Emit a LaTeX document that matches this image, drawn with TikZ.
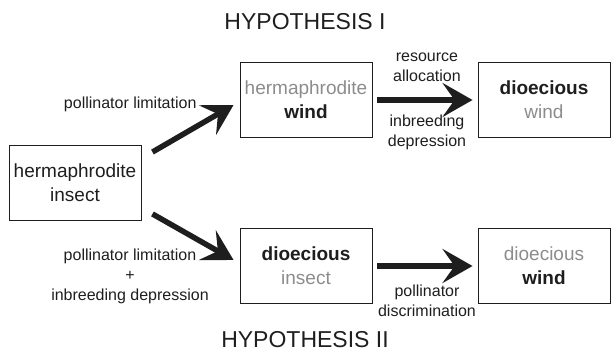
\documentclass[tikz,border=0pt]{standalone}
\usepackage{fontspec}
\setmainfont{Liberation Sans}
\usepackage{xcolor}
\usetikzlibrary{calc,positioning,arrows.meta}
\definecolor{paletext}{RGB}{140,140,140}
\definecolor{inktext}{RGB}{30,30,30}

\begin{document}
\begin{tikzpicture}[x=1pt,y=-1pt,
	box/.style={draw=inktext,line width=0.9pt,minimum width=132pt,minimum height=75pt,align=center,text=inktext,font=\fontsize{19}{24}\selectfont},
	lbl/.style={align=center,text=inktext,font=\fontsize{16}{20}\selectfont},
	head/.style={text=inktext,font=\fontsize{23}{28}\selectfont},
	bigarrow/.style={line width=5.5pt,draw=inktext,-{Stealth[length=30pt,width=34pt,inset=12pt]}}]
	\useasboundingbox (0,0) rectangle (611,355);
	% titles
	\node[head] (hypI) at (305,22) {HYPOTHESIS I};
	\node[head] (hypII) at (305,340) {HYPOTHESIS II};
	% states
	\node[box] (hermInsect) at (75,183) {hermaphrodite\\insect};
	\node[box] (hermWind) at (306,100) {{\color{paletext}hermaphrodite}\\\textbf{wind}};
	\node[box] (dioWindI) at (544,100) {\textbf{dioecious}\\{\color{paletext}wind}};
	\node[box] (dioInsect) at (306,266) {\textbf{dioecious}\\{\color{paletext}insect}};
	\node[box] (dioWindII) at (544,266) {{\color{paletext}dioecious}\\\textbf{wind}};
	% transitions
	\draw[bigarrow] ($(hermInsect.north east)+(11,7)$) -- ($(hermWind.west)+(-6,5)$);
	\draw[bigarrow] ($(hermInsect.south east)+(11,-7)$) -- ($(dioInsect.west)+(-6,-6)$);
	\draw[bigarrow,shorten <=5pt,shorten >=5pt] (hermWind) -- (dioWindI);
	\draw[bigarrow,shorten <=5pt,shorten >=5pt] (dioInsect) -- (dioWindII);
	% causes
	\node[lbl,anchor=east] (limI) at (200,104) {pollinator limitation};
	\node[lbl] (resI) at (427,67) {resource\\allocation};
	\node[lbl] (inbI) at (427,132) {inbreeding\\depression};
	\node[lbl] (limII) at (130,276) {pollinator limitation\\+\\inbreeding depression};
	\node[lbl] (disII) at (427,301) {pollinator\\discrimination};
\end{tikzpicture}
\end{document}
